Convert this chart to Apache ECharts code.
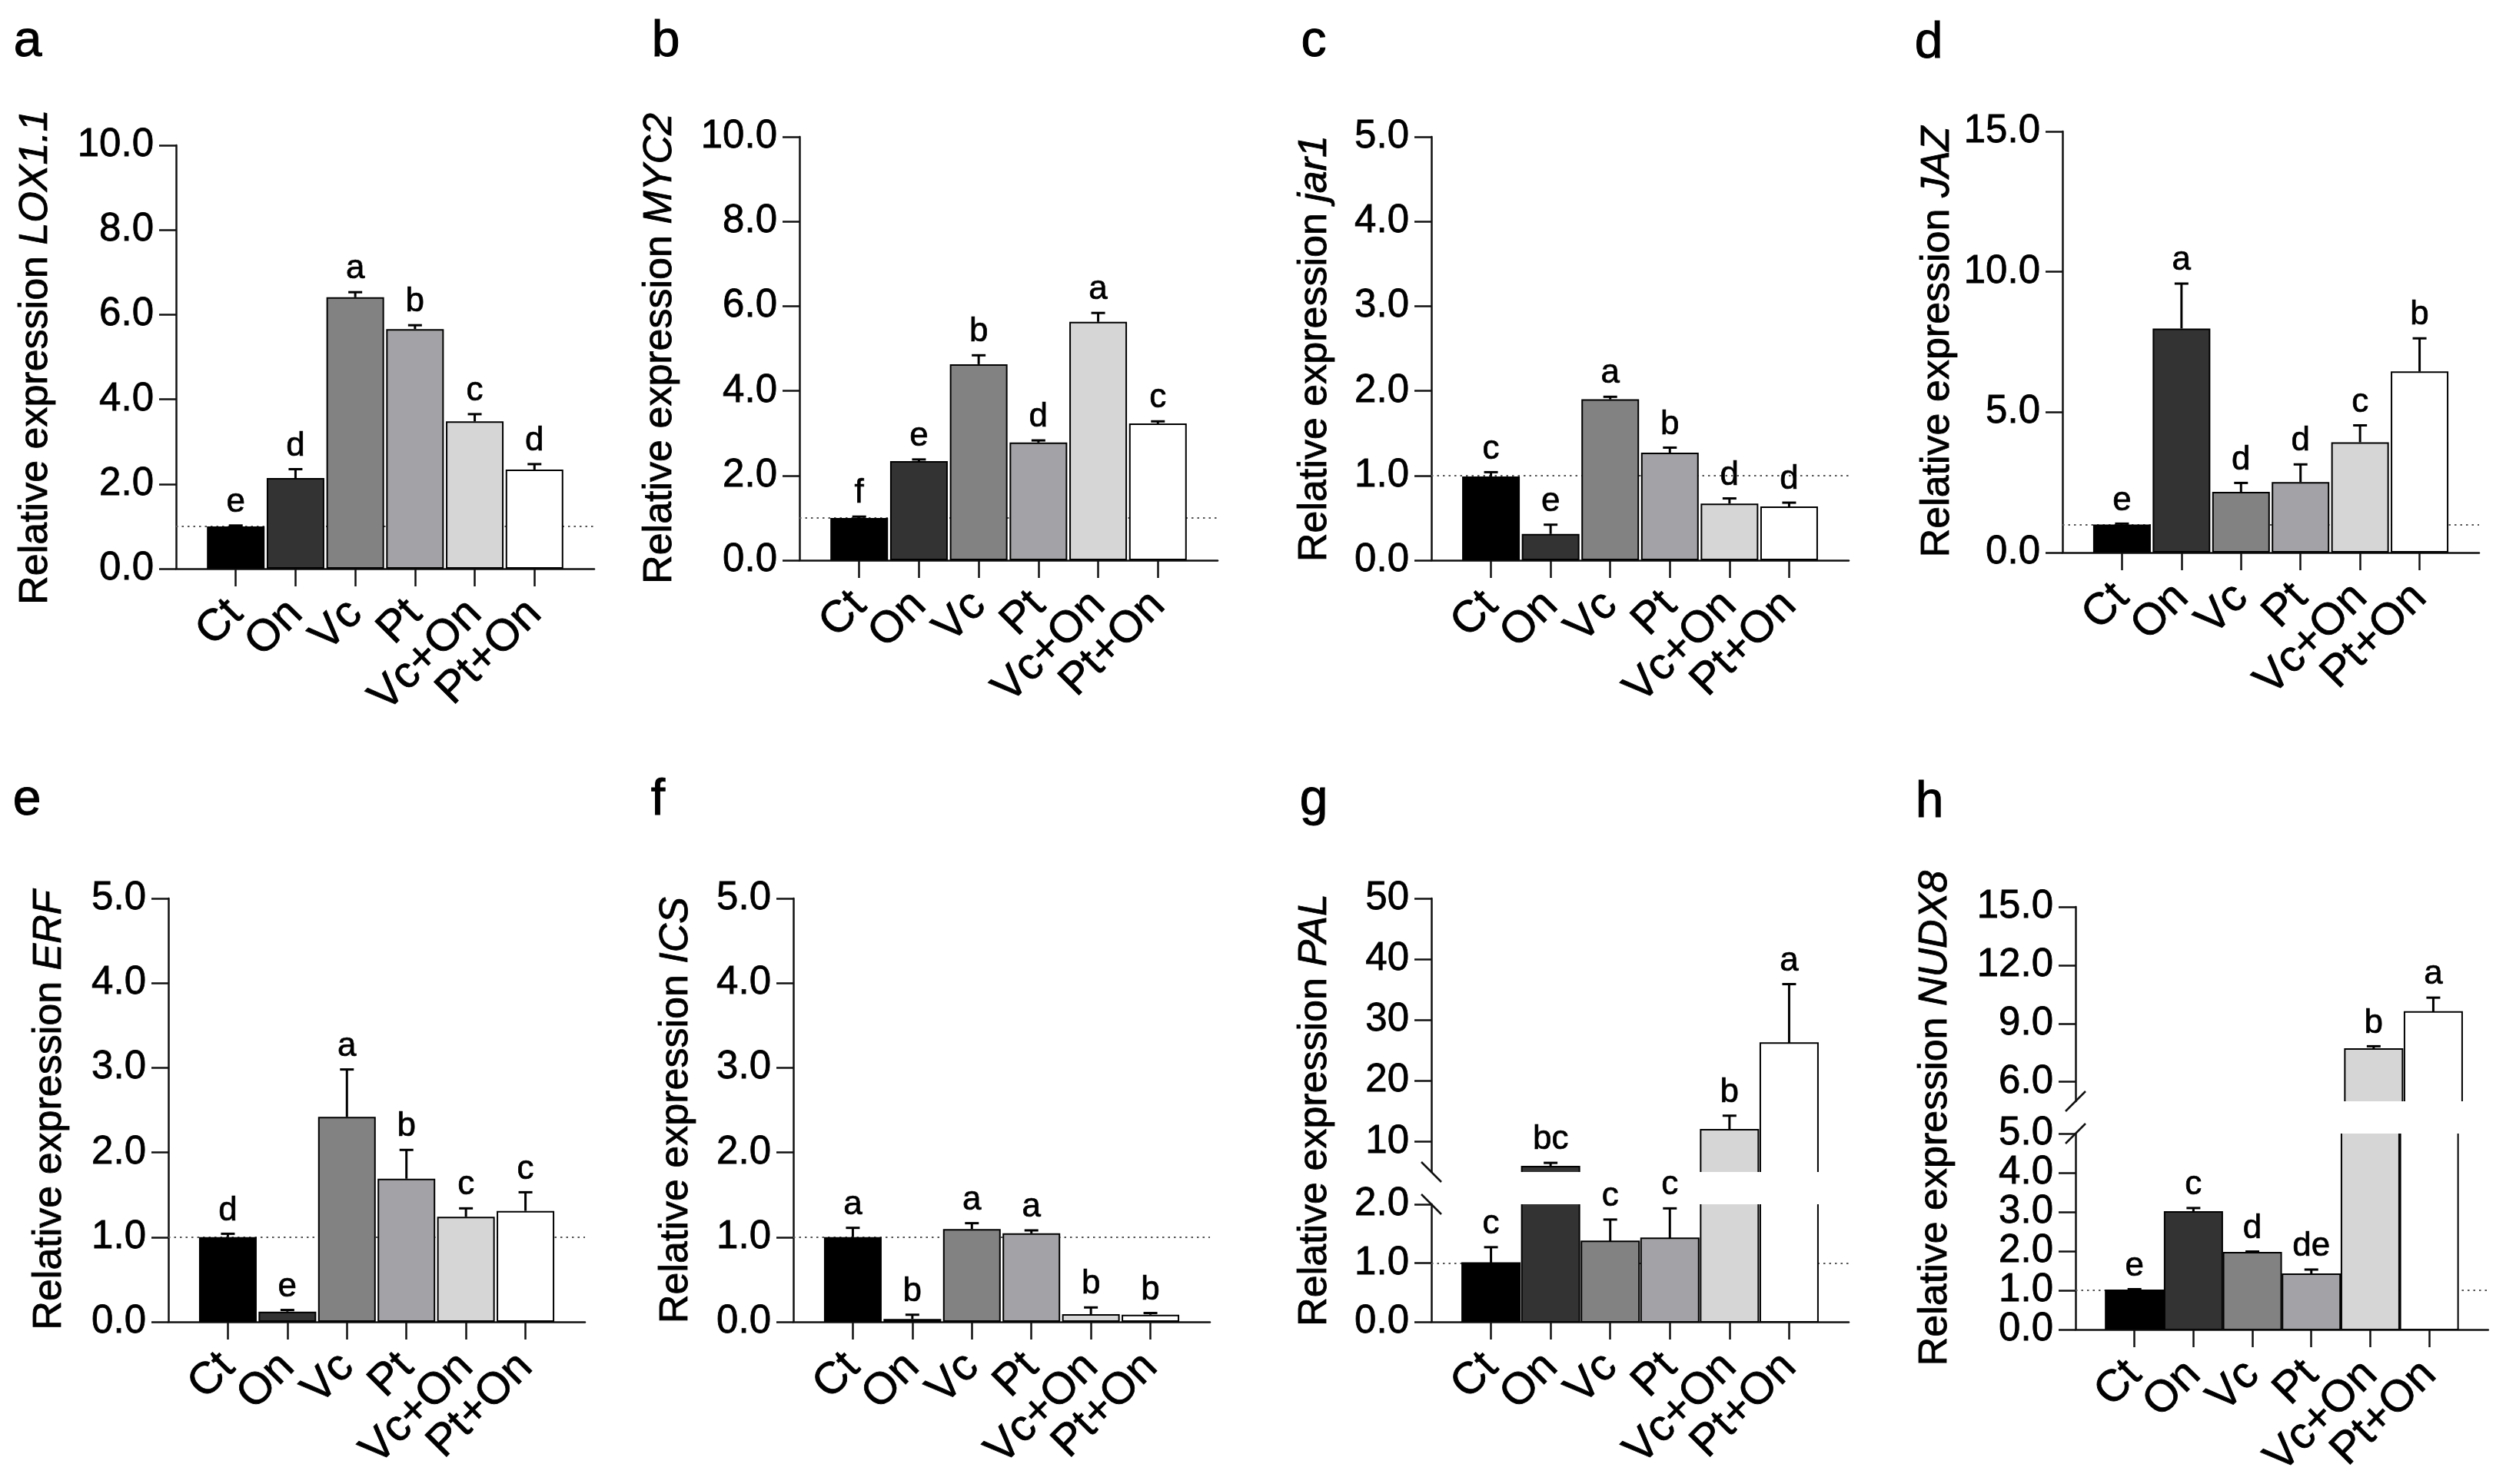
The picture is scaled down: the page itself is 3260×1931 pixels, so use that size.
<!DOCTYPE html>
<html>
<head>
<meta charset="utf-8">
<script src="https://cdn.jsdelivr.net/npm/echarts@6/dist/echarts.min.js"></script>
<style>
html,body{margin:0;padding:0;background:#ffffff;}
#chart{width:3260px;height:1931px;}
</style>
</head>
<body>
<div id="chart"></div>
<script>
// ---------------- data ----------------
const categories = ['Ct', 'On', 'Vc', 'Pt', 'Vc+On', 'Pt+On'];
const referenceLevel = 1.0;

const lox11Mean = [1.0, 2.14, 6.41, 5.66, 3.48, 2.34];
const lox11Err  = [0.02, 0.21, 0.12, 0.09, 0.17, 0.13];
const lox11Sig  = ['e', 'd', 'a', 'b', 'c', 'd'];
const lox11Ticks = [0, 2, 4, 6, 8, 10];

const myc2Mean = [1.0, 2.34, 4.63, 2.78, 5.63, 3.23];
const myc2Err  = [0.03, 0.04, 0.21, 0.05, 0.21, 0.05];
const myc2Sig  = ['f', 'e', 'b', 'd', 'a', 'c'];
const myc2Ticks = [0, 2, 4, 6, 8, 10];

const jar1Mean = [0.99, 0.31, 1.90, 1.27, 0.67, 0.635];
const jar1Err  = [0.05, 0.11, 0.03, 0.06, 0.06, 0.045];
const jar1Sig  = ['c', 'e', 'a', 'b', 'd', 'd'];
const jar1Ticks = [0, 1, 2, 3, 4, 5];

const jazMean = [1.0, 7.98, 2.16, 2.51, 3.93, 6.45];
const jazErr  = [0.03, 1.60, 0.32, 0.63, 0.60, 1.18];
const jazSig  = ['e', 'a', 'd', 'd', 'c', 'b'];
const jazTicks = [0, 5, 10, 15];

const erfMean = [1.0, 0.12, 2.42, 1.69, 1.24, 1.31];
const erfErr  = [0.04, 0.02, 0.56, 0.34, 0.10, 0.22];
const erfSig  = ['d', 'e', 'a', 'b', 'c', 'c'];
const erfTicks = [0, 1, 2, 3, 4, 5];

const icsMean = [1.0, 0.034, 1.095, 1.045, 0.09, 0.084];
const icsErr  = [0.11, 0.05, 0.07, 0.035, 0.08, 0.02];
const icsSig  = ['a', 'b', 'a', 'a', 'b', 'b'];
const icsTicks = [0, 1, 2, 3, 4, 5];

const palMean = [1.0, 5.9, 1.37, 1.42, 11.96, 26.2];
const palErr  = [0.27, 0.6, 0.37, 0.51, 2.3, 9.7];
const palSig  = ['c', 'bc', 'c', 'c', 'b', 'a'];
const palLowerTicks = [0, 1, 2];
const palUpperTicks = [10, 20, 30, 40, 50];
const palUpperMin = 5;

const nudx8Mean = [1.0, 3.0, 1.96, 1.41, 7.69, 9.59];
const nudx8Err  = [0.03, 0.10, 0.03, 0.12, 0.14, 0.74];
const nudx8Sig  = ['e', 'c', 'd', 'de', 'b', 'a'];
const nudx8LowerTicks = [0, 1, 2, 3, 4, 5];
const nudx8UpperTicks = [6, 9, 12, 15];
const nudx8UpperMin = 5;

// ---------------- styles / layout ----------------
const FONT = '"Liberation Sans", Arial, Helvetica, sans-serif';
const barColors = ['#000000', '#333333', '#828282', '#a3a3a7', '#d6d6d6', '#ffffff'];
const INK = '#111111';
const BAR_W = 75;
// categories sit on slots 1..6 of an axis running 0..7 (one empty slot at each end)
const slots = [''].concat(categories, [' ']);
const slotPositions = categories.map(function (c, i) { return i + 1; });
const slotMax = slots.length - 1;

const panels = [
  {label: 'a', gene: 'LOX1.1', mean: lox11Mean, err: lox11Err, sig: lox11Sig, ticks: lox11Ticks, dec: 1,
   box: {left: 229, right: 773, top: 189, bottom: 740}, titleX: 47, labelX: 36, labelY: 55},
  {label: 'b', gene: 'MYC2', mean: myc2Mean, err: myc2Err, sig: myc2Sig, ticks: myc2Ticks, dec: 1,
   box: {left: 1040, right: 1584, top: 178, bottom: 729}, titleX: 859, labelX: 866, labelY: 55},
  {label: 'c', gene: 'jar1', mean: jar1Mean, err: jar1Err, sig: jar1Sig, ticks: jar1Ticks, dec: 1,
   box: {left: 1862, right: 2405, top: 178, bottom: 729}, titleX: 1711, labelX: 1709, labelY: 55},
  {label: 'd', gene: 'JAZ', mean: jazMean, err: jazErr, sig: jazSig, ticks: jazTicks, dec: 1,
   box: {left: 2683, right: 3225, top: 171, bottom: 719}, titleX: 2521, labelX: 2509, labelY: 57},
  {label: 'e', gene: 'ERF', mean: erfMean, err: erfErr, sig: erfSig, ticks: erfTicks, dec: 1,
   box: {left: 219, right: 761, top: 1169, bottom: 1720}, titleX: 65, labelX: 35, labelY: 1042},
  {label: 'f', gene: 'ICS', mean: icsMean, err: icsErr, sig: icsSig, ticks: icsTicks, dec: 1,
   box: {left: 1032, right: 1574, top: 1169, bottom: 1720}, titleX: 880, labelX: 856, labelY: 1042},
  {label: 'g', gene: 'PAL', mean: palMean, err: palErr, sig: palSig,
   ticks: palLowerTicks, upperTicks: palUpperTicks, upperMin: palUpperMin, dec: 1, upperDec: 0, slash: 'back',
   box: {left: 1862, right: 2405, top: 1169, bottom: 1720, upperBottom: 1525, lowerTop: 1567},
   titleX: 1711, labelX: 1709, labelY: 1042},
  {label: 'h', gene: 'NUDX8', mean: nudx8Mean, err: nudx8Err, sig: nudx8Sig,
   ticks: nudx8LowerTicks, upperTicks: nudx8UpperTicks, upperMin: nudx8UpperMin, dec: 1, upperDec: 1, slash: 'fwd',
   splitLabels: true,
   box: {left: 2700, right: 3243, top: 1180, bottom: 1730, upperBottom: 1433, lowerTop: 1475},
   titleX: 2518, labelX: 2510, labelY: 1045}
];

const grids = [], xAxes = [], yAxes = [], series = [], graphics = [];

const refMarkLine = {
  silent: true, z: 1, symbol: ['none', 'none'], label: {show: false},
  lineStyle: {type: [2.5, 5], color: '#555', width: 2.2},
  emphasis: {disabled: true},
  data: [{yAxis: referenceLevel}]
};

function yLabelStyle(dec, values) {
  return {fontSize: 51, margin: 29, color: '#000', fontFamily: FONT,
          showMinLabel: true, showMaxLabel: true, hideOverlap: false,
          textBorderColor: '#000', textBorderWidth: 0.8,
          customValues: values,
          formatter: function (v) { return Number(v).toFixed(dec); }};
}

function addSegment(p, top, bottom, showX, yMin, yMax, tickVals, dec, withRef, broken) {
  const gi = grids.length;
  grids.push({left: p.box.left, top: top, width: p.box.right - p.box.left, height: bottom - top, containLabel: false});
  // visible category axis: line, ticks and treatment labels
  xAxes.push({
    type: 'category', gridIndex: gi, data: slots, boundaryGap: false, show: showX,
    axisLine: {show: true, onZero: false, lineStyle: {color: INK, width: 2.5}},
    axisTick: {show: true, length: 23, lineStyle: {color: INK, width: 2.5},
               interval: function (i) { return i > 0 && i < slots.length - 1; }},
    axisLabel: {interval: 0, rotate: 45, fontSize: 58, margin: 50, color: '#000', fontFamily: FONT,
                textBorderColor: '#000', textBorderWidth: 0.8, showMinLabel: true, showMaxLabel: true},
    splitLine: {show: false}
  });
  // hidden numeric twin axis (same extent) used to place the bars
  xAxes.push({type: 'value', gridIndex: gi, min: 0, max: slotMax, show: false, splitLine: {show: false}});
  const valAxisIndex = xAxes.length - 1;

  const split = !!p.splitLabels && showX;
  const mainLabels = split ? tickVals.filter(function (v, i) { return i % 2 === 0; }) : tickVals;
  yAxes.push({
    type: 'value', gridIndex: gi, min: yMin, max: yMax, position: 'left',
    axisLine: {show: true, onZero: false, lineStyle: {color: INK, width: 2.5}},
    axisTick: {show: true, length: 22, customValues: tickVals, lineStyle: {color: INK, width: 2.5}},
    axisLabel: yLabelStyle(dec, mainLabels),
    splitLine: {show: false}
  });
  const yi = yAxes.length - 1;
  if (split) {
    // densely packed tick labels: the alternate ones are carried by a twin axis so none get dropped
    yAxes.push({
      type: 'value', gridIndex: gi, min: yMin, max: yMax, position: 'left', offset: 0,
      axisLine: {show: false}, axisTick: {show: false},
      axisLabel: yLabelStyle(dec, tickVals.filter(function (v, i) { return i % 2 === 1; })),
      splitLine: {show: false}
    });
  }

  if (!broken) {
    const bar = {
      type: 'bar', xAxisIndex: valAxisIndex, yAxisIndex: yi, barWidth: BAR_W, clip: true, z: 2, silent: true,
      itemStyle: {borderColor: '#000', borderWidth: 2},
      data: p.mean.map(function (v, i) {
        return {value: [slotPositions[i], v], itemStyle: {color: barColors[i]}};
      })
    };
    if (withRef) bar.markLine = refMarkLine;
    series.push(bar);
  } else {
    // broken-axis segment: bars drawn through the axis scale and clipped to the segment
    const seg = {
      type: 'custom', xAxisIndex: valAxisIndex, yAxisIndex: yi, clip: true, z: 2, silent: true,
      data: p.mean.map(function (v, i) { return [slotPositions[i], v, i]; }),
      renderItem: function (params, api) {
        const x = api.value(0), v = api.value(1), ci = api.value(2);
        const p0 = api.coord([x, 0]);
        const p1 = api.coord([x, v]);
        return {
          type: 'rect',
          shape: {x: p0[0] - BAR_W / 2, y: p1[1], width: BAR_W, height: p0[1] - p1[1]},
          style: {fill: barColors[ci], stroke: '#000', lineWidth: 2}
        };
      }
    };
    if (withRef) seg.markLine = refMarkLine;
    series.push(seg);
  }

  const sig = p.sig;
  series.push({
    type: 'custom', xAxisIndex: valAxisIndex, yAxisIndex: yi, z: 3, silent: true,
    data: p.mean.map(function (m, i) { return [slotPositions[i], m, p.err[i]]; }),
    renderItem: function (params, api) {
      const m = api.value(1), e = api.value(2);
      if (m < yMin || m > yMax) return null;
      const base = api.coord([api.value(0), m]);
      const top = api.coord([api.value(0), m + e]);
      const hw = 9;
      return {
        type: 'group',
        children: [
          {type: 'line', shape: {x1: base[0], y1: base[1], x2: top[0], y2: top[1]},
           style: {stroke: '#000', lineWidth: 3}},
          {type: 'line', shape: {x1: top[0] - hw, y1: top[1], x2: top[0] + hw, y2: top[1]},
           style: {stroke: '#000', lineWidth: 3}},
          {type: 'text', x: top[0], y: top[1] - 8,
           style: {text: sig[params.dataIndex], fontSize: 44, fontFamily: FONT, fill: '#000',
                   stroke: '#000', lineWidth: 0.7,
                   align: 'center', verticalAlign: 'bottom'}}
        ]
      };
    }
  });
}

panels.forEach(function (p) {
  const lowT = p.ticks;
  if (p.upperTicks) {
    addSegment(p, p.box.lowerTop, p.box.bottom, true, lowT[0], lowT[lowT.length - 1], lowT, p.dec, true, true);
    addSegment(p, p.box.top, p.box.upperBottom, false, p.upperMin, p.upperTicks[p.upperTicks.length - 1],
               p.upperTicks, p.upperDec, false, true);
    // axis-break marks
    const x = p.box.left, s = 13;
    [p.box.upperBottom, p.box.lowerTop].forEach(function (y) {
      const dy = p.slash === 'back' ? s : -s;
      graphics.push({type: 'line', silent: true,
        shape: {x1: x - s, y1: y - dy, x2: x + s, y2: y + dy},
        style: {stroke: INK, lineWidth: 2.5}});
    });
  } else {
    addSegment(p, p.box.top, p.box.bottom, true, lowT[0], lowT[lowT.length - 1], lowT, p.dec, true, false);
  }
  // y-axis title
  graphics.push({
    type: 'text', silent: true, x: p.titleX, y: (p.box.top + p.box.bottom) / 2, rotation: Math.PI / 2,
    style: {
      text: '{n|Relative expression }{i|' + p.gene + '}',
      rich: {
        n: {fontSize: 52, fontFamily: FONT, fill: '#000', stroke: '#000', lineWidth: 0.8},
        i: {fontSize: 52, fontFamily: FONT, fontStyle: 'italic', fill: '#000', stroke: '#000', lineWidth: 0.8}
      },
      fontSize: 52, fontFamily: FONT, fill: '#000', align: 'center', verticalAlign: 'middle'
    }
  });
  // panel letter
  graphics.push({
    type: 'text', silent: true, x: p.labelX, y: p.labelY,
    style: {text: p.label, fontSize: 66, fontFamily: FONT, fill: '#000', stroke: '#000', lineWidth: 1,
            align: 'center', verticalAlign: 'middle'}
  });
});

const chart = echarts.init(document.getElementById('chart'), null, {renderer: 'canvas'});
chart.setOption({
  backgroundColor: '#ffffff',
  animation: false,
  grid: grids,
  xAxis: xAxes,
  yAxis: yAxes,
  series: series,
  graphic: {elements: graphics}
});
</script>
</body>
</html>
